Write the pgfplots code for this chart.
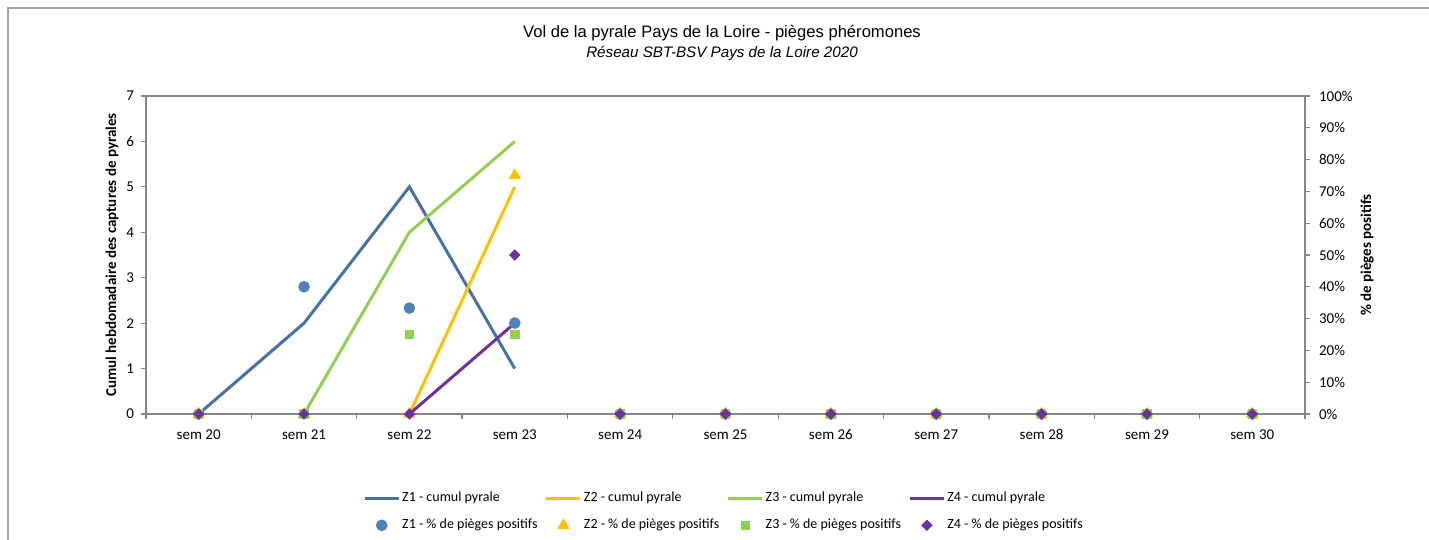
\documentclass[border=0pt]{standalone}
\usepackage{pgfplots}
\pgfplotsset{compat=1.18}
\usepackage{fontspec}
\setmainfont{Carlito}
\newfontfamily\titlefont{Liberation Sans}
\definecolor{zA}{HTML}{4472A8}
\definecolor{zAm}{HTML}{4F81BD}
\definecolor{zB}{HTML}{FFC000}
\definecolor{zC}{HTML}{92D050}
\definecolor{zD}{HTML}{7030A0}
\definecolor{axgray}{HTML}{868686}
\begin{document}
\begin{tikzpicture}
\useasboundingbox (-73pt,-63pt) rectangle (641.5pt,207pt);
\draw[gray!70, line width=1.2pt] (-69pt,-80pt) -- (-69pt,203pt) -- (660pt,203pt);
\pgfplotsset{
  common/.style={
    at={(0pt,0pt)}, anchor=south west,
    scale only axis, width=579.5pt, height=159pt,
    xmin=-0.5, xmax=10.5,
    clip=false,
    /pgf/number format/assume math mode=true,
    tick align=outside,
    major tick length=2.5pt,
    every tick/.style={axgray, line width=0.6pt},
    axis line style={axgray, line width=0.8pt},
    ticklabel style={font=\fontsize{7.5}{9}\selectfont},
    label style={font=\fontsize{7.5}{9}\selectfont\bfseries},
  }
}
\begin{axis}[common,
  ymin=0, ymax=7, ytick={0,...,7},
  ytick pos=left,
  xtick={-0.5,0.5,...,10.5},
  x tick label as interval,
  xticklabels={sem 20,sem 21,sem 22,sem 23,sem 24,sem 25,sem 26,sem 27,sem 28,sem 29,sem 30},
  xtick pos=bottom,
  xticklabel style={yshift=-1pt, text height=5.5pt, text depth=1pt},
  ylabel={Cumul hebdomadaire des captures de pyrales},
  ylabel style={at={(axis description cs:-0.0293,0.5)}, anchor=center, rotate=0},
]
\addplot[zA, line width=1.5pt, no marks] coordinates {(0,0) (1,2) (2,5) (3,1)};
\addplot[zB, line width=1.5pt, no marks] coordinates {(2,0) (3,5)};
\addplot[zC, line width=1.5pt, no marks] coordinates {(1,0) (2,4) (3,6)};
\addplot[zD, line width=1.5pt, no marks] coordinates {(2,0) (3,2)};
\node[font=\titlefont\fontsize{8.3}{10}\selectfont] at (axis description cs:0.497,1.198) {Vol de la pyrale Pays de la Loire - pièges phéromones};
\node[font=\titlefont\fontsize{7.6}{10}\selectfont\itshape] at (axis description cs:0.497,1.135) {Réseau SBT-BSV Pays de la Loire 2020};
\end{axis}
\begin{axis}[common,
  ymin=0, ymax=100, ytick={0,10,...,100},
  axis x line=none, axis y line*=right,
  yticklabel={\pgfmathprintnumber{\tick}\%},
  yticklabel style={anchor=west, xshift=1pt},
  ylabel={\% de pièges positifs},
  ylabel style={at={(axis description cs:1.0535,0.5)}, anchor=center, rotate=0},
  legend columns=4,
  legend cell align=left,
  legend style={at={(axis description cs:0.4987,-0.308)}, anchor=center, draw=none, fill=none,
    font=\fontsize{7}{8.5}\selectfont, row sep=3pt,
    /tikz/every even column/.append style={column sep=2.7pt},
    nodes={inner xsep=1pt}},
]
\addlegendimage{legend image code/.code={\draw[zA, line width=1.5pt] (0pt,0pt) -- (17pt,0pt);}}
\addlegendentry{Z1 - cumul pyrale}
\addlegendimage{legend image code/.code={\draw[zB, line width=1.5pt] (0pt,0pt) -- (17pt,0pt);}}
\addlegendentry{Z2 - cumul pyrale}
\addlegendimage{legend image code/.code={\draw[zC, line width=1.5pt] (0pt,0pt) -- (17pt,0pt);}}
\addlegendentry{Z3 - cumul pyrale}
\addlegendimage{legend image code/.code={\draw[zD, line width=1.5pt] (0pt,0pt) -- (17pt,0pt);}}
\addlegendentry{Z4 - cumul pyrale}
\addplot[only marks, mark=*, mark size=2.7pt, mark options={draw=zAm, fill=zAm},
  legend image code/.code={\draw[mark repeat=2,mark phase=2] plot coordinates {(0pt,0pt) (8.5pt,0pt) (17pt,0pt)};}]
  coordinates {(0,0) (1,40) (2,33.3) (3,28.6) (4,0) (5,0) (6,0) (7,0) (8,0) (9,0) (10,0)};
\addlegendentry{Z1 - \% de pièges positifs}
\addplot[only marks, mark=triangle*, mark size=3.2pt, mark options={draw=zB, fill=zB},
  legend image code/.code={\draw[mark repeat=2,mark phase=2] plot coordinates {(0pt,0pt) (8.5pt,0pt) (17pt,0pt)};}]
  coordinates {(0,0) (1,0) (2,0) (3,75) (4,0) (5,0) (6,0) (7,0) (8,0) (9,0) (10,0)};
\addlegendentry{Z2 - \% de pièges positifs}
\addplot[only marks, mark=square*, mark size=2.1pt, mark options={draw=zC, fill=zC},
  legend image code/.code={\draw[mark repeat=2,mark phase=2] plot coordinates {(0pt,0pt) (8.5pt,0pt) (17pt,0pt)};}]
  coordinates {(0,0) (1,0) (2,25) (3,25) (4,0) (5,0) (6,0) (7,0) (8,0) (9,0) (10,0)};
\addlegendentry{Z3 - \% de pièges positifs}
\addplot[only marks, mark=square*, mark size=1.8pt, mark options={draw=zD, fill=zD, rotate=45},
  legend image code/.code={\draw[mark repeat=2,mark phase=2] plot coordinates {(0pt,0pt) (8.5pt,0pt) (17pt,0pt)};}]
  coordinates {(0,0) (1,0) (2,0) (3,50) (4,0) (5,0) (6,0) (7,0) (8,0) (9,0) (10,0)};
\addlegendentry{Z4 - \% de pièges positifs}
\end{axis}
\end{tikzpicture}
\end{document}
